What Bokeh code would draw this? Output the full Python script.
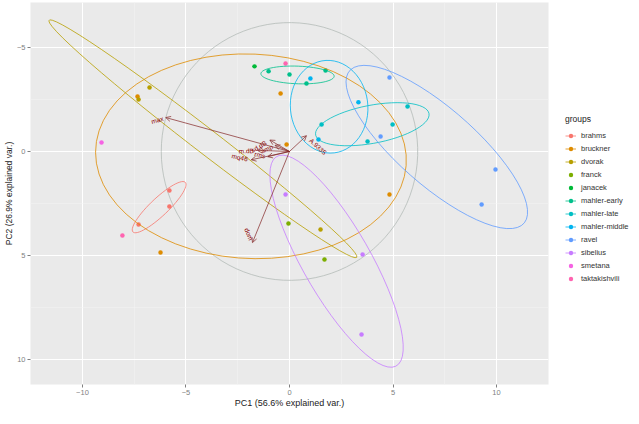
import numpy as np
from bokeh.plotting import figure
from bokeh.models import (Range1d, ColumnDataSource, Legend, LegendItem, Arrow,
                          OpenHead, FixedTicker)
from bokeh.core.properties import value
from bokeh.embed import file_html
from bokeh.resources import INLINE

# ---------------- data ----------------
groups = ["brahms", "bruckner", "dvorak", "franck", "janacek", "mahler-early",
          "mahler-late", "mahler-middle", "ravel", "sibelius", "smetana",
          "taktakishvili"]
group_colors = ["#F8766D", "#DE8C00", "#B79F00", "#7CAE00", "#00BA38", "#00C08B",
                "#00BFC4", "#00B4F0", "#619CFF", "#C77CFF", "#F564E3", "#FF64B0"]

point_group = ["brahms", "brahms", "brahms",
               "bruckner", "bruckner", "bruckner", "bruckner", "bruckner",
               "dvorak", "dvorak", "dvorak",
               "franck", "franck",
               "janacek",
               "mahler-early", "mahler-early", "mahler-early", "mahler-early",
               "mahler-late", "mahler-late", "mahler-late", "mahler-late",
               "mahler-middle", "mahler-middle", "mahler-middle",
               "ravel", "ravel", "ravel", "ravel",
               "sibelius", "sibelius", "sibelius",
               "smetana",
               "taktakishvili", "taktakishvili"]
pc1 = [-5.80, -5.80, -7.29,
       -6.23, -0.43, 4.83, -7.34, -0.14,
       -6.76, -7.29, 1.50,
       -0.05, 1.69,
       -1.69,
       -1.01, 0.00, 0.82, 1.74,
       1.55, 5.70, 3.77, 4.98,
       1.01, 3.33, 1.40,
       4.83, 4.40, 9.95, 9.28,
       -0.19, 3.53, 3.48,
       -9.08,
       -8.07, -0.19]
pc2 = [1.88, 2.64, 3.51,
       4.86, -2.79, 2.07, -2.64, -0.34,
       -3.08, -2.50, 3.75,
       3.46, 5.19,
       -4.09,
       -3.85, -3.70, -3.27, -3.89,
       -1.30, -2.16, -0.48, -1.30,
       -3.51, -2.36, -0.58,
       -3.56, -0.72, 0.87, 2.55,
       2.07, 4.95, 8.80,
       -0.43,
       4.04, -4.23]

var_names = ["max", "dom", "A.9335", "mq46", "m.dB", "rms", "sd.dB", "amp"]
var_pc1 = [-5.98, -1.79, 0.82, -1.85, -1.55, -1.05, -0.95, -0.70]
var_pc2 = [-1.63, 4.38, -0.76, 0.40, -0.05, 0.25, -0.55, -0.30]

x_ticks = [-10, -5, 0, 5, 10]
y_ticks = [-5, 0, 5, 10]
x_title = "PC1 (56.6% explained var.)"
y_title = "PC2 (26.9% explained var.)"

# ---------------- figure ----------------
FONT = "Liberation Sans"
FW, FH = 518, 382
X0, X1 = -12.51, 12.51
Y0, Y1 = 11.20, -7.16

p = figure(frame_width=FW, frame_height=FH, output_backend="svg",
           toolbar_location=None, x_range=Range1d(X0, X1), y_range=Range1d(Y0, Y1),
           min_border_left=24, min_border_right=81, min_border_top=2,
           min_border_bottom=24)
p.background_fill_color = "#EAEAEA"
p.border_fill_color = "white"
p.outline_line_color = None

p.xaxis.ticker = FixedTicker(ticks=x_ticks, minor_ticks=[-12.5, -7.5, -2.5, 2.5, 7.5, 12.5])
p.yaxis.ticker = FixedTicker(ticks=y_ticks, minor_ticks=[-7.5, -2.5, 2.5, 7.5])
for ax in (p.xaxis, p.yaxis):
    ax.axis_line_color = None
    ax.major_tick_out = 3
    ax.major_tick_in = 0
    ax.major_tick_line_color = "#7F7F7F"
    ax.minor_tick_line_color = None
    ax.major_label_text_font = FONT
    ax.major_label_text_font_size = "7.5px"
    ax.major_label_text_color = "#7F7F7F"
    ax.major_label_standoff = 1
    ax.axis_label_text_font = FONT
    ax.axis_label_text_font_style = "normal"
    ax.axis_label_text_color = "#222222"
    ax.axis_label_standoff = 0
p.xaxis.axis_label = x_title
p.yaxis.axis_label = y_title
p.xaxis.axis_label_text_font_size = "9px"
p.yaxis.axis_label_text_font_size = "8.5px"

p.grid.grid_line_color = "white"
p.grid.grid_line_width = 1
p.grid.minor_grid_line_color = "#F4F4F4"
p.grid.minor_grid_line_width = 0.5

px_all = np.array(pc1)
py_all = np.array(pc2)

# correlation circle (ggbiplot style)
r = np.sqrt(-2 * np.log(1 - 0.69)) * (np.mean(px_all ** 2) * np.mean(py_all ** 2)) ** 0.25
th = np.linspace(-np.pi, np.pi, 100)
p.line(r * np.cos(th), r * np.sin(th), line_color="#B4BBB8", line_width=0.8)

# variable arrows
asrc = ColumnDataSource(dict(x0=np.zeros(len(var_names)), y0=np.zeros(len(var_names)),
                             x1=var_pc1, y1=var_pc2))
p.add_layout(Arrow(end=OpenHead(size=5, line_color="#832424", line_width=0.7),
                   x_start="x0", y_start="y0", x_end="x1", y_end="y1",
                   source=asrc, line_color="#832424", line_width=0.7))

# points and ellipses
ed = np.sqrt(-2 * np.log(1 - 0.68))
tt = np.linspace(-np.pi, np.pi, 60)
circ = np.column_stack([np.cos(tt), np.sin(tt)])
items = []
garr = np.array(point_group)
line_rs = {}
for g, c in zip(groups, group_colors):
    m = garr == g
    gx, gy = px_all[m], py_all[m]
    if len(gx) > 2:
        sig = np.cov(np.vstack([gx, gy]))
        L = np.linalg.cholesky(sig)
        e = ed * circ @ L.T + np.array([gx.mean(), gy.mean()])
        ex, ey = e[:, 0], e[:, 1]
    else:
        ex, ey = [], []
    line_rs[g] = (ex, ey, c)

scatter_rs = {}
for g, c in zip(groups, group_colors):
    m = garr == g
    scatter_rs[g] = p.scatter(px_all[m], py_all[m], size=4.5, color=c, line_width=0)

for g, c in zip(groups, group_colors):
    ex, ey, c = line_rs[g]
    lr = p.line(ex, ey, line_color=c, line_width=0.8)
    items.append(LegendItem(label=g, renderers=[lr, scatter_rs[g]]))

# variable labels
sx = FW / (X1 - X0)
sy = FH / (Y0 - Y1)
fs = 6.5
lx, ly, la, al = [], [], [], []
for n, vx, vy in zip(var_names, var_pc1, var_pc2):
    a = np.arctan(vy / vx)
    w = len(n) * fs * 0.55
    s = np.sign(vx)
    lx.append(vx + s * 0.25 * w * np.cos(a) / sx)
    ly.append(vy + s * 0.25 * w * (-np.sin(a)) / sy)
    la.append(a)
    al.append("right" if vx < 0 else "left")
p.text(x=lx, y=ly, text=var_names, angle=la, text_align=al, text_baseline="middle",
       text_font=value(FONT), text_font_size=f"{fs}px", text_color="#8B0000")

legend = Legend(items=items, location=(17, 99), orientation="vertical",
                padding=0, margin=0, spacing=0, label_height=13, glyph_height=13,
                glyph_width=11, label_standoff=5, label_text_font=FONT,
                label_text_font_size="7.5px", label_text_color="#333333",
                title="groups", title_text_font=FONT, title_text_font_size="8.5px",
                title_text_font_style="normal", title_text_color="#222222",
                title_standoff=5, border_line_color=None, background_fill_alpha=0)
p.add_layout(legend, "right")

open("out.html", "w").write(file_html(p, INLINE))
